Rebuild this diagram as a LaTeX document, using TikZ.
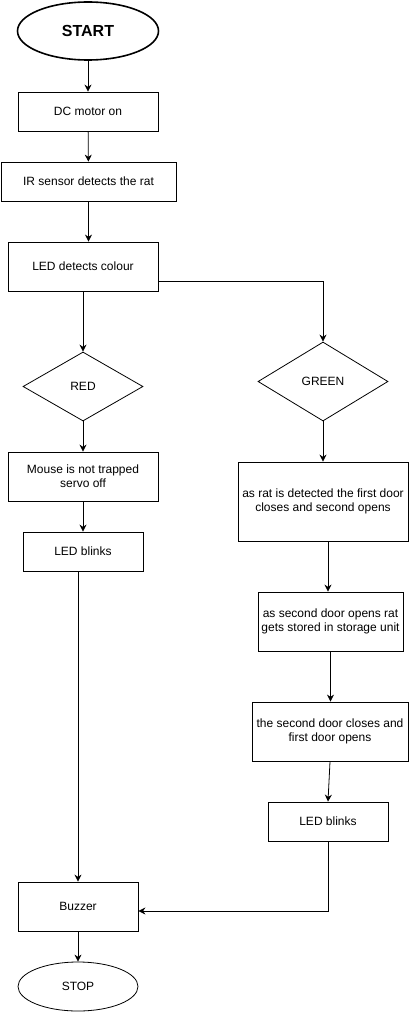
\documentclass[tikz,border=0pt]{standalone}
\usepackage{fontspec}
\setmainfont{Liberation Sans}
\usetikzlibrary{shapes.geometric, arrows.meta}

\begin{document}
\begin{tikzpicture}[x=1pt, y=-1pt,
    box/.style={draw, line width=0.8pt, rectangle, align=center, inner sep=2pt,
        font=\fontsize{12}{14}\selectfont},
    choice/.style={draw, line width=0.8pt, diamond, inner sep=0pt, aspect=1.7,
        font=\fontsize{12}{14}\selectfont},
    term/.style={draw, ellipse, inner sep=0pt},
    flow/.style={line width=0.8pt, -{Stealth[length=7pt, width=7pt]}}]
    \useasboundingbox (0,0) rectangle (411,1014);

    % Start and main line
    \node[term, line width=1.6pt, minimum width=141pt, minimum height=58pt,
        font=\fontsize{16}{18}\selectfont\bfseries] (start) at (88,31) {START};
    \node[box, minimum width=140pt, minimum height=39pt] (motor) at (88,111.5) {DC motor on};
    \node[box, minimum width=175pt, minimum height=39pt] (ir) at (88.5,181.5) {IR sensor detects the rat};
    \node[box, minimum width=150pt, minimum height=49pt] (led) at (83,266.5) {LED detects colour};

    % Two colours
    \node[choice, minimum width=120pt, minimum height=69pt] (red) at (83,386.5) {RED};
    \node[choice, minimum width=130pt, minimum height=79pt] (green) at (323,381.5) {GREEN};

    % Red branch
    \node[box, minimum width=150pt, minimum height=49pt] (mouse) at (83,476.5) {Mouse is not trapped\\servo off};
    \node[box, minimum width=120pt, minimum height=39pt] (blinkred) at (83,551.5) {LED blinks};

    % Green branch
    \node[box, minimum width=170pt, minimum height=79pt] (doorone) at (323,501.5) {as rat is detected the first door\\closes and second opens};
    \node[box, minimum width=145pt, minimum height=59pt] (store) at (330.5,621.5) {as second door opens rat\\gets stored in storage unit};
    \node[box, minimum width=156pt, minimum height=59pt] (doortwo) at (330,731.5) {the second door closes and\\first door opens};
    \node[box, minimum width=120pt, minimum height=39pt] (blinkgreen) at (328,821.5) {LED blinks};

    % End
    \node[box, minimum width=120pt, minimum height=49pt] (buzzer) at (78,906.5) {Buzzer};
    \node[term, line width=0.8pt, minimum width=120pt, minimum height=49pt,
        font=\fontsize{12}{14}\selectfont] (stop) at (78,986.5) {STOP};

    % Connectors
    \draw[flow] (start) -- (motor);
    \draw[flow] (motor) -- (ir);
    \draw[flow] (ir.south) -- (ir.south |- led.north);
    \draw[flow] (led.south) -- (red.north);
    \draw[flow] ([yshift=-14.5pt]led.east) -| (green.north);
    \draw[flow] (red.south) -- (mouse.north);
    \draw[flow] (mouse.south) -- (blinkred.north);
    \draw[flow] (buzzer.north |- blinkred.south) -- (buzzer.north);
    \draw[flow] (green.south) -- (doorone.north);
    \draw[flow] ([xshift=5pt]doorone.south) -- ([xshift=5pt]doorone.south |- store.north);
    \draw[flow] (store.south) -- (store.south |- doortwo.north);
    \draw[flow] (doortwo.south) -- (blinkgreen.north);
    \draw[flow] (blinkgreen.south) |- ([yshift=-4.5pt]buzzer.east);
    \draw[flow] (buzzer) -- (stop);
\end{tikzpicture}
\end{document}
